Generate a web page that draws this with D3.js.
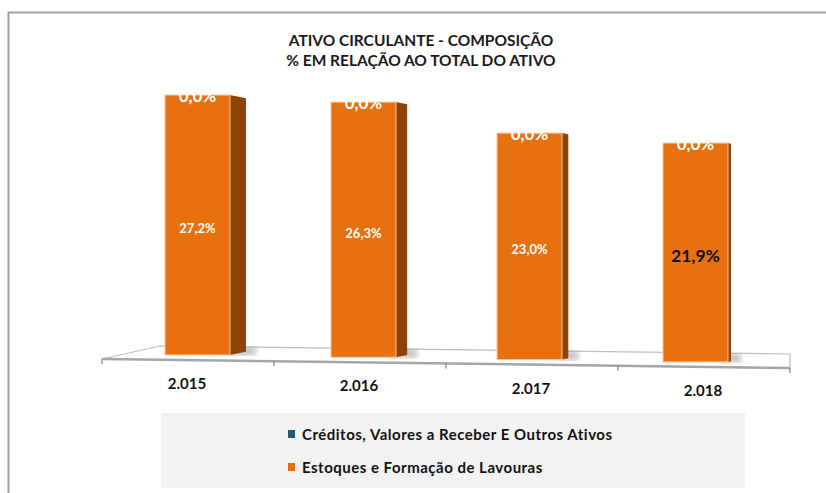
<!DOCTYPE html>
<html>
<head>
<meta charset="utf-8">
<script src="https://cdn.jsdelivr.net/npm/d3@7"></script>
<style>
  body { margin: 0; background: #fff; }
  text { font-family: Lato, "Open Sans", sans-serif; }
</style>
</head>
<body>
<div id="chart-area"></div>
<script>
// Data
const years = ["2.015", "2.016", "2.017", "2.018"]
const estoques = [27.2, 26.3, 23.0, 21.9]
const creditos = [0.0, 0.0, 0.0, 0.0]
const seriesNames = ["Créditos, Valores a Receber E Outros Ativos", "Estoques e Formação de Lavouras"]
const seriesColors = ["#215967", "#E46C0A"]
const titleLines = ["ATIVO CIRCULANTE - COMPOSIÇÃO", "% EM RELAÇÃO AO TOTAL DO ATIVO"]

const W = 826, H = 493
const fmt = v => d3.format(".1f")(v).replace(".", ",") + "%"

const svg = d3.select("#chart-area").append("svg")
    .attr("width", W)
    .attr("height", H)

// Frame
svg.append("rect")
    .attr("x", 8.5).attr("y", 12.5)
    .attr("width", 840).attr("height", 520)
    .attr("fill", "#fff")
    .attr("stroke", "#a0a0a0")
    .attr("stroke-width", 2)

// Title
svg.append("text")
    .attr("x", 421).attr("y", 46)
    .attr("text-anchor", "middle")
    .attr("font-size", "15.5px")
    .attr("font-weight", "bold")
    .attr("fill", "#1a1a1a")
    .selectAll("tspan").data(titleLines).enter().append("tspan")
    .attr("x", 421)
    .attr("dy", (d, i) => i === 0 ? 0 : 20)
    .text(d => d)

// Scales
// floor front edge (axis), slightly tilted
const floorLeft = 102, floorRight = 790
const xAxisScale = d3.scaleBand().domain(years).range([floorLeft, floorRight])
const frontY = d3.scaleLinear().domain([floorLeft, floorRight]).range([359, 368])
// bars sit in the middle of the floor depth
const xBar = d3.scaleBand().domain(years).range([114.5, 778.5])
const barW = 65
const baseY = d3.scaleLinear().domain([200, 699]).range([355, 362])
const persp = d3.scaleLinear().domain([200, 699]).range([1, 1.046])
const y = d3.scaleLinear().domain([0, 27.2]).range([0, 260])

// Floor
const backY = d3.scaleLinear().domain([160, floorRight]).range([346, 354])
svg.append("path")
    .attr("d", `M${floorLeft},${frontY(floorLeft)} L160,${backY(160)} L${floorRight},${backY(floorRight)} L${floorRight},${frontY(floorRight)} Z`)
    .attr("fill", "#fff")
    .attr("stroke", "#bfbfbf")
    .attr("stroke-width", 1.2)

const defs = svg.append("defs")
defs.append("filter").attr("id", "blur")
    .append("feGaussianBlur").attr("stdDeviation", 3)

const bars = years.map((yr, i) => {
    const cx = xBar(yr) + xBar.bandwidth() / 2
    const left = cx - barW / 2, right = cx + barW / 2
    const bottom = baseY(cx)
    const top = bottom - y(estoques[i]) * persp(cx)
    const side = Math.max(3, (780 - right) * 0.029)
    return { yr, i, cx, left, right, bottom, top, side }
})

// shadows on floor
svg.selectAll(".shadow").data(bars).enter().append("rect")
    .attr("class", "shadow")
    .attr("x", d => d.right - 4)
    .attr("y", d => d.bottom - 8)
    .attr("width", d => d.side + 14)
    .attr("height", 8)
    .attr("fill", "#9a9a9a")
    .attr("opacity", 0.7)
    .attr("filter", "url(#blur)")

// Front edge of the floor (axis line + ticks)
const axisG = svg.append("g")
    .attr("transform", `translate(0, ${frontY(floorLeft)}) rotate(${Math.atan2(frontY(floorRight) - frontY(floorLeft), floorRight - floorLeft) * 180 / Math.PI}, ${floorLeft}, 0)`)
axisG.append("line")
    .attr("x1", floorLeft).attr("x2", floorRight)
    .attr("stroke", "#a6a6a6").attr("stroke-width", 2.5)
const tickPos = years.map(d => xAxisScale(d)).concat([floorRight])
axisG.selectAll(".tick").data(tickPos).enter().append("line")
    .attr("x1", d => d).attr("x2", d => d)
    .attr("y1", 0).attr("y2", 5)
    .attr("stroke", "#808080").attr("stroke-width", 1.2)

// Category labels
svg.selectAll(".xlabel").data(years).enter().append("text")
    .attr("class", "xlabel")
    .attr("x", d => xAxisScale(d) + xAxisScale.bandwidth() / 2 - 1)
    .attr("y", d => frontY(xAxisScale(d) + xAxisScale.bandwidth() / 2) + 29)
    .attr("text-anchor", "middle")
    .attr("font-size", "15px")
    .attr("font-weight", "bold")
    .attr("fill", "#111")
    .text(d => d)

// Bar side faces
svg.selectAll(".side").data(bars).enter().append("path")
    .attr("class", "side")
    .attr("d", d => `M${d.right},${d.top} L${d.right + d.side},${d.top + d.side * 0.2} L${d.right + d.side},${d.bottom - d.side * 0.2} L${d.right},${d.bottom} Z`)
    .attr("fill", "#8E4205")

// Bar front faces
svg.selectAll(".front").data(bars).enter().append("rect")
    .attr("class", "front")
    .attr("x", d => d.left)
    .attr("y", d => d.top)
    .attr("width", barW)
    .attr("height", d => d.bottom - d.top)
    .attr("fill", "#E8700F")
    .attr("stroke", "#F6C9A2")
    .attr("stroke-width", 1)

// Créditos labels (0,0%) at the top of each bar
svg.selectAll(".credLabel").data(bars).enter().append("text")
    .attr("class", "credLabel")
    .attr("x", d => d.cx)
    .attr("y", d => d.top + 7)
    .attr("text-anchor", "middle")
    .attr("font-size", "17px")
    .attr("font-weight", "bold")
    .attr("fill", "#fff")
    .text(d => fmt(creditos[d.i]))

// Estoques labels
svg.selectAll(".estLabel").data(bars).enter().append("text")
    .attr("class", "estLabel")
    .attr("x", d => d.cx)
    .attr("y", d => (d.top + d.bottom) / 2 + 3)
    .attr("dominant-baseline", "central")
    .attr("text-anchor", "middle")
    .attr("font-size", d => d.i === 3 ? "17.5px" : "13px")
    .attr("font-weight", "bold")
    .attr("fill", d => d.i === 3 ? "#111" : "#fff")
    .text(d => fmt(estoques[d.i]))

// Legend
const legend = svg.append("g")
legend.append("rect")
    .attr("x", 161).attr("y", 413)
    .attr("width", 584).attr("height", 75)
    .attr("fill", "#f2f2f2")
const items = legend.selectAll(".item").data(seriesNames).enter().append("g")
    .attr("transform", (d, i) => `translate(288, ${434 + i * 33})`)
items.append("rect")
    .attr("x", 0).attr("y", -4)
    .attr("width", 7).attr("height", 8)
    .attr("fill", (d, i) => seriesColors[i])
items.append("text")
    .attr("x", 14).attr("y", 0)
    .attr("dominant-baseline", "central")
    .attr("font-size", "15px")
    .attr("letter-spacing", "0.5px")
    .attr("font-weight", "bold")
    .attr("fill", "#111")
    .text(d => d)
</script>
</body>
</html>
